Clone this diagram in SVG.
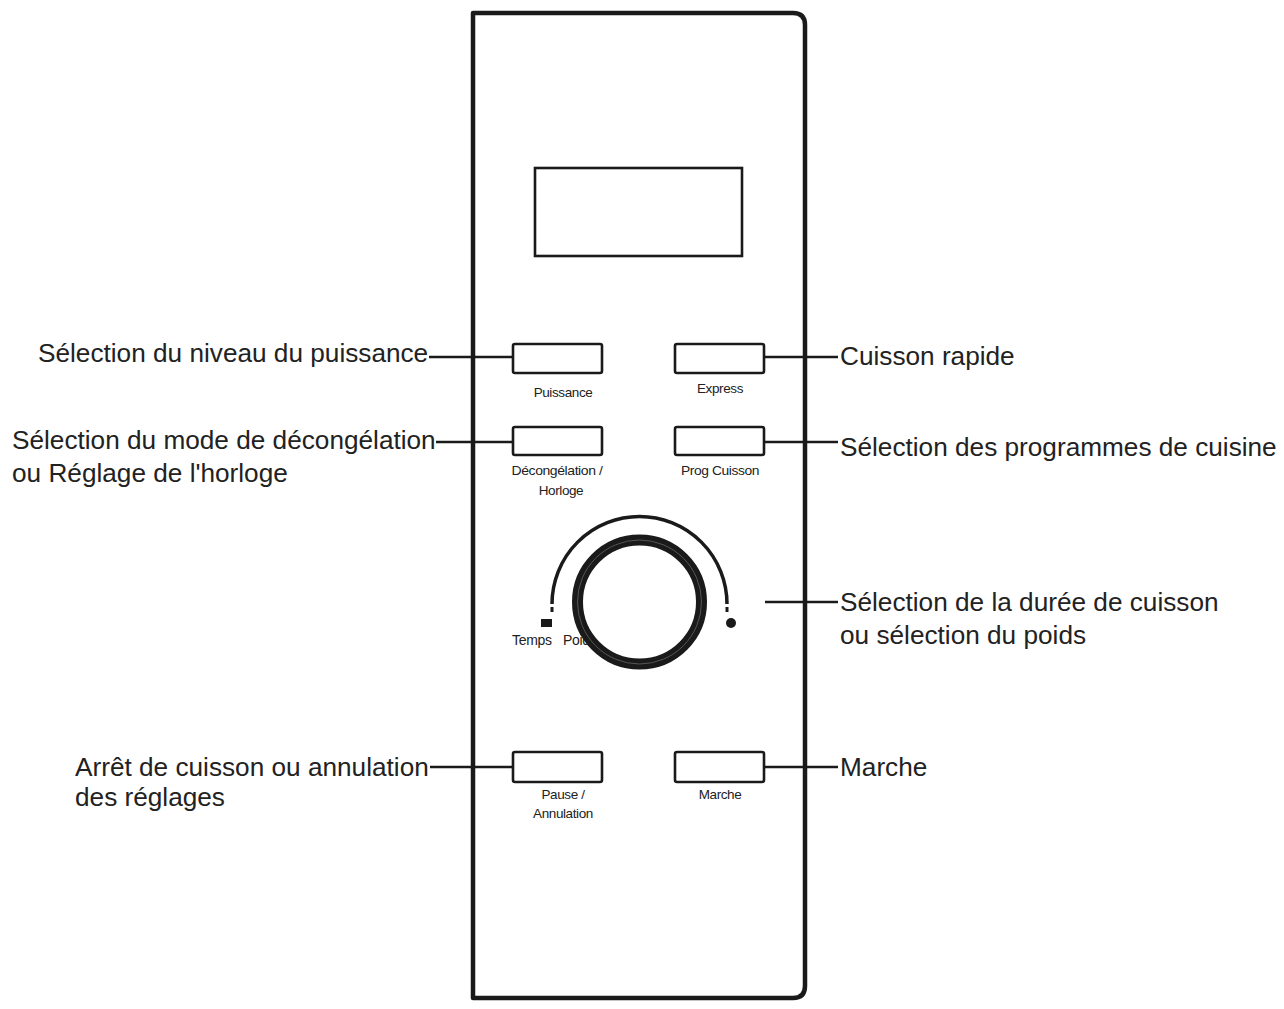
<svg xmlns="http://www.w3.org/2000/svg" width="1284" height="1009" viewBox="0 0 1284 1009">
<style>
.lbl{font-family:"Liberation Sans",Arial,sans-serif;font-size:26.2px;fill:#222}
.sm{font-family:"Liberation Sans",Arial,sans-serif;font-size:13.5px;fill:#222;letter-spacing:-0.4px}
.btn{fill:#fff;stroke:#1a1a1a;stroke-width:2.6}
.con{stroke:#1a1a1a;stroke-width:2.4;fill:none}
</style>
<rect width="1284" height="1009" fill="#fff"/>
<g id="panel">
<path d="M473,13 H793 Q805,13 805,25 V986 Q805,998 793,998 H473 Z" fill="#fff" stroke="#1a1a1a" stroke-width="4.5" stroke-linejoin="round"/>
</g>
<g id="display">
<rect x="535" y="168" width="207" height="88" fill="#fff" stroke="#1a1a1a" stroke-width="2.6"/>
</g>
<g id="connectors">
<line class="con" x1="429" y1="357" x2="513" y2="357"/>
<line class="con" x1="436" y1="442" x2="513" y2="442"/>
<line class="con" x1="430" y1="767" x2="513" y2="767"/>
<line class="con" x1="764" y1="357" x2="838" y2="357"/>
<line class="con" x1="764" y1="442" x2="838" y2="442"/>
<line class="con" x1="765" y1="602" x2="838" y2="602"/>
<line class="con" x1="764" y1="767" x2="838" y2="767"/>
</g>
<g id="btn-puissance">
<rect class="btn" x="513" y="344" width="89" height="29" rx="2"/>
<text class="sm" x="563" y="397" text-anchor="middle">Puissance</text>
</g>
<g id="btn-express">
<rect class="btn" x="675" y="344" width="89" height="29" rx="2"/>
<text class="sm" x="720" y="393" text-anchor="middle">Express</text>
</g>
<g id="btn-decongelation">
<rect class="btn" x="513" y="427" width="89" height="28" rx="2"/>
<text class="sm" x="557" y="475" text-anchor="middle" textLength="91" lengthAdjust="spacingAndGlyphs">Décongélation /</text>
<text class="sm" x="561" y="495" text-anchor="middle">Horloge</text>
</g>
<g id="btn-prog">
<rect class="btn" x="675" y="427" width="89" height="28" rx="2"/>
<text class="sm" x="720" y="475" text-anchor="middle" textLength="78" lengthAdjust="spacingAndGlyphs">Prog Cuisson</text>
</g>
<g id="dial">
<path d="M552,604 A87.5,87.5 0 0 1 727,604" fill="none" stroke="#1a1a1a" stroke-width="3.5"/>
<line x1="552" y1="607" x2="552" y2="612" stroke="#1a1a1a" stroke-width="3"/>
<line x1="727" y1="607" x2="727" y2="612" stroke="#1a1a1a" stroke-width="3"/>
<rect x="541" y="619" width="11" height="8" fill="#1a1a1a"/>
<circle cx="731" cy="623" r="5" fill="#1a1a1a"/>
<text class="sm" y="645" style="font-size:14px;letter-spacing:-0.3px"><tspan x="512">Temps</tspan><tspan x="563">Poids</tspan></text>
<circle cx="639.5" cy="602" r="62" fill="#fff" stroke="#1a1a1a" stroke-width="11"/>
<circle cx="639.5" cy="602" r="62" fill="none" stroke="#555" stroke-width="1"/>
</g>
<g id="btn-pause">
<rect class="btn" x="513" y="752" width="89" height="30" rx="2"/>
<text class="sm" x="563" y="799" text-anchor="middle">Pause /</text>
<text class="sm" x="563" y="818" text-anchor="middle">Annulation</text>
</g>
<g id="btn-marche">
<rect class="btn" x="675" y="752" width="89" height="30" rx="2"/>
<text class="sm" x="720" y="799" text-anchor="middle">Marche</text>
</g>
<g id="label-puissance">
<text class="lbl" x="38" y="362">Sélection du niveau du puissance</text>
</g>
<g id="label-decongelation">
<text class="lbl" x="12" y="449">Sélection du mode de décongélation</text>
<text class="lbl" x="12" y="482">ou Réglage de l'horloge</text>
</g>
<g id="label-arret">
<text class="lbl" x="75" y="776">Arrêt de cuisson ou annulation</text>
<text class="lbl" x="75" y="806">des réglages</text>
</g>
<g id="label-rapide">
<text class="lbl" x="840" y="365">Cuisson rapide</text>
</g>
<g id="label-programmes">
<text class="lbl" x="840" y="456">Sélection des programmes de cuisine</text>
</g>
<g id="label-duree">
<text class="lbl" x="840" y="611">Sélection de la durée de cuisson</text>
<text class="lbl" x="840" y="644">ou sélection du poids</text>
</g>
<g id="label-marche">
<text class="lbl" x="840" y="776">Marche</text>
</g>
</svg>
